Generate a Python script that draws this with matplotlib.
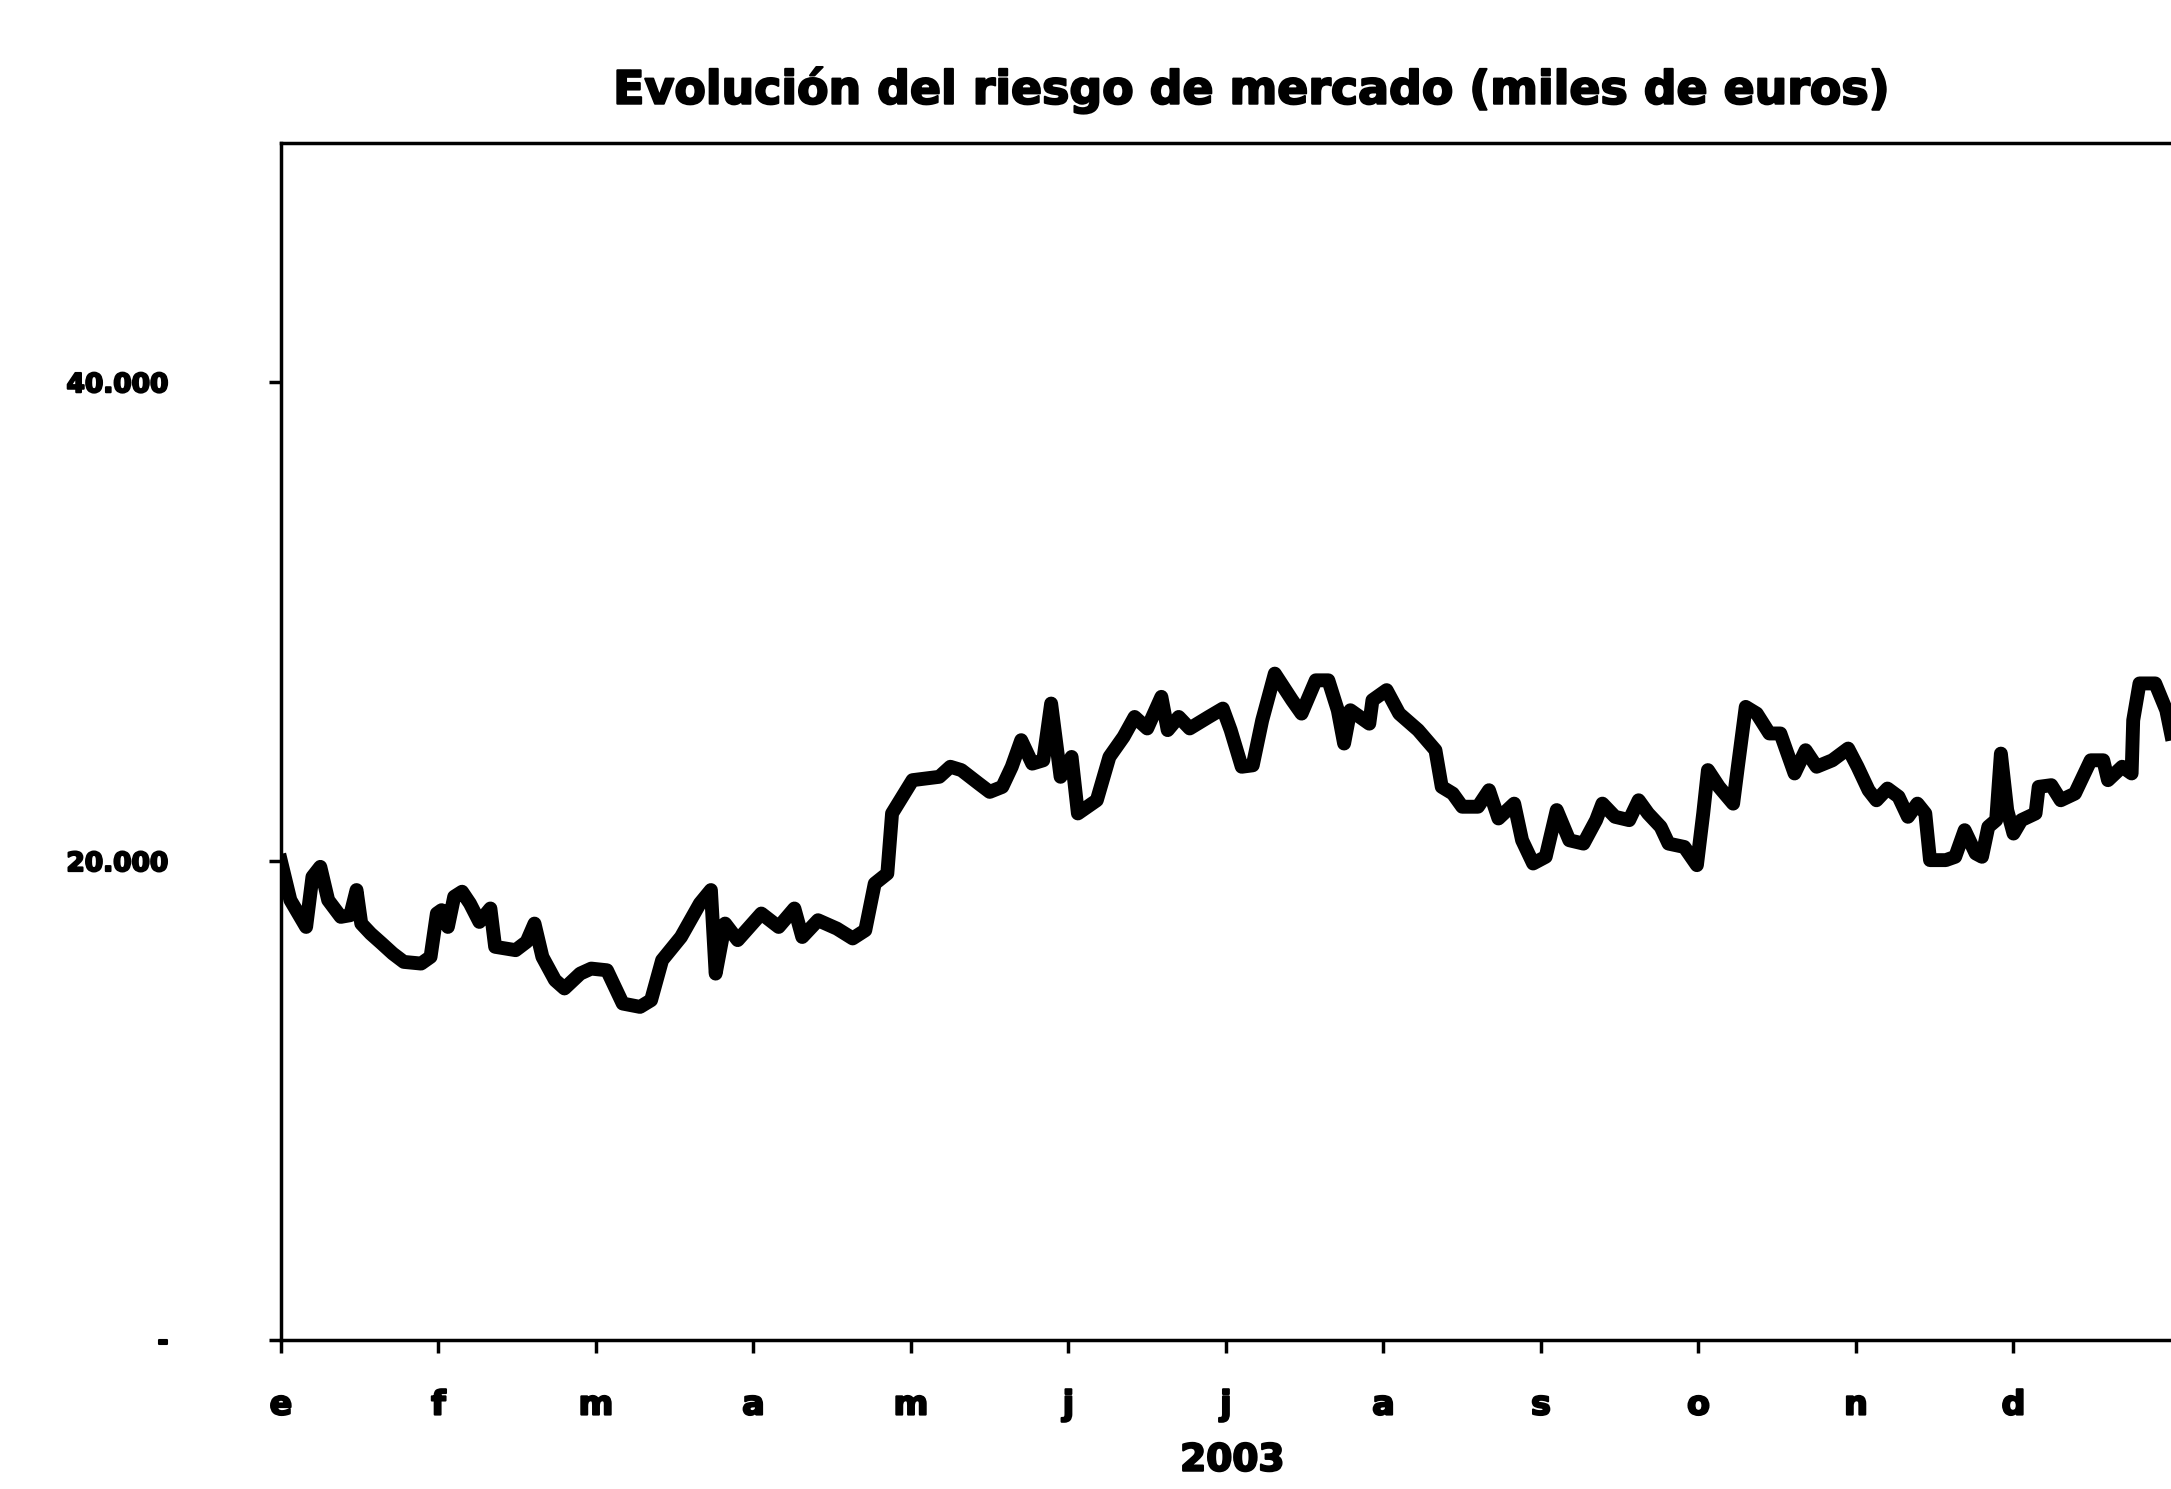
import matplotlib
matplotlib.use('Agg')
import matplotlib.pyplot as plt
import matplotlib.patheffects as pe

# posicion en meses desde el 1 de enero de 2003 (0 = e, 11 = d)
mes = [0.00, 0.06, 0.16, 0.20, 0.25, 0.30, 0.38, 0.44, 0.48, 0.51,
       0.57, 0.64, 0.71, 0.78, 0.89, 0.95, 0.99, 1.02, 1.06, 1.10,
       1.15, 1.20, 1.26, 1.33, 1.36, 1.49, 1.56, 1.61, 1.66, 1.74,
       1.80, 1.90, 1.97, 2.07, 2.17, 2.28, 2.35, 2.42, 2.54, 2.66,
       2.73, 2.76, 2.82, 2.90, 3.05, 3.16, 3.26, 3.31, 3.41, 3.53,
       3.63, 3.71, 3.77, 3.85, 3.88, 4.01, 4.18, 4.25, 4.32, 4.43,
       4.50, 4.58, 4.64, 4.70, 4.77, 4.84, 4.89, 4.95, 5.02, 5.06,
       5.18, 5.26, 5.35, 5.42, 5.50, 5.59, 5.63, 5.70, 5.77, 5.89,
       5.98, 6.03, 6.10, 6.17, 6.23, 6.31, 6.42, 6.48, 6.57, 6.65,
       6.71, 6.75, 6.79, 6.91, 6.93, 7.02, 7.10, 7.22, 7.33, 7.37,
       7.44, 7.50, 7.60, 7.67, 7.73, 7.83, 7.88, 7.95, 8.03, 8.10,
       8.18, 8.27, 8.35, 8.39, 8.47, 8.56, 8.62, 8.68, 8.76, 8.81,
       8.91, 8.99, 9.03, 9.06, 9.13, 9.22, 9.25, 9.30, 9.37, 9.45,
       9.52, 9.61, 9.68, 9.75, 9.85, 9.95, 10.01, 10.08, 10.13, 10.20,
       10.27, 10.33, 10.39, 10.44, 10.47, 10.57, 10.63, 10.69, 10.76, 10.80,
       10.84, 10.89, 10.92, 10.96, 11.00, 11.05, 11.14, 11.16, 11.24, 11.30,
       11.39, 11.49, 11.57, 11.60, 11.69, 11.75, 11.76, 11.80, 11.90, 11.97,
       12.00]

# riesgo de mercado, miles de euros
riesgo = [20000, 18370, 17250, 19340, 19760, 18370, 17670, 17740, 18790, 17390,
          16970, 16560, 16140, 15790, 15720, 16000, 17810, 17950, 17250, 18510,
          18720, 18230, 17460, 18020, 16420, 16280, 16630, 17390, 16000, 15030,
          14680, 15300, 15510, 15440, 14050, 13910, 14190, 15860, 16830, 18230,
          18790, 15300, 17390, 16700, 17810, 17250, 18020, 16830, 17530, 17180,
          16770, 17110, 19060, 19480, 21990, 23380, 23520, 23940, 23800, 23240,
          22890, 23100, 23940, 25050, 24070, 24210, 26580, 23520, 24350, 21990,
          22540, 24350, 25190, 26020, 25540, 26860, 25470, 26020, 25540, 26020,
          26370, 25470, 23940, 24000, 25880, 27830, 26720, 26160, 27550, 27550,
          26300, 24910, 26300, 25740, 26720, 27140, 26160, 25470, 24630, 23100,
          22820, 22270, 22270, 22960, 21780, 22400, 20870, 19900, 20180, 22130,
          20870, 20730, 21710, 22400, 21850, 21710, 22540, 21990, 21430, 20730,
          20590, 19830, 21990, 23800, 23100, 22400, 23940, 26440, 26160, 25330,
          25330, 23660, 24630, 23940, 24210, 24700, 23940, 22960, 22540, 23030,
          22690, 21850, 22400, 21990, 20040, 20040, 20180, 21290, 20320, 20180,
          21430, 21710, 24490, 22130, 21150, 21710, 21990, 23100, 23170, 22540,
          22820, 24210, 24210, 23380, 23940, 23660, 25880, 27420, 27420, 26300,
          25330]

meses = ['e', 'f', 'm', 'a', 'm', 'j', 'j', 'a', 's', 'o', 'n', 'd']
yticks = [0, 20000, 40000]
ylabels = ['-', '20.000', '40.000']


def main():
    fig = plt.figure(figsize=(21.71, 14.89), dpi=100)
    ax = fig.add_axes([0.1294, 0.1001, 0.8706, 0.804])

    ax.plot(mes, riesgo, color='black', lw=10)

    # texto algo mas grueso, como en el escaneado
    grueso = [pe.withStroke(linewidth=1.5, foreground='black')]

    ax.set_xlim(0, 12)
    ax.set_ylim(0, 50000)
    ax.set_xticks(range(12))
    ax.set_xticklabels(meses, fontsize=24, fontweight='bold', path_effects=grueso)
    ax.set_yticks(yticks)
    ax.set_yticklabels(ylabels, fontsize=19, fontweight='bold', path_effects=grueso)
    ax.tick_params(direction='out', length=9, width=2.5)
    ax.tick_params(axis='y', pad=72)
    ax.tick_params(axis='x', pad=26)

    ax.spines['right'].set_visible(False)
    for s in ['left', 'bottom', 'top']:
        ax.spines[s].set_linewidth(2.5)

    fig.text(0.577, 0.9396, 'Evolución del riesgo de mercado (miles de euros)',
             fontsize=33, fontweight='bold', ha='center', va='center',
             path_effects=grueso)
    fig.text(0.5676, 0.019, '2003', fontsize=27, fontweight='bold',
             ha='center', va='center', path_effects=grueso)

    fig.savefig('out.png', dpi=100)


if __name__ == '__main__':
    main()
